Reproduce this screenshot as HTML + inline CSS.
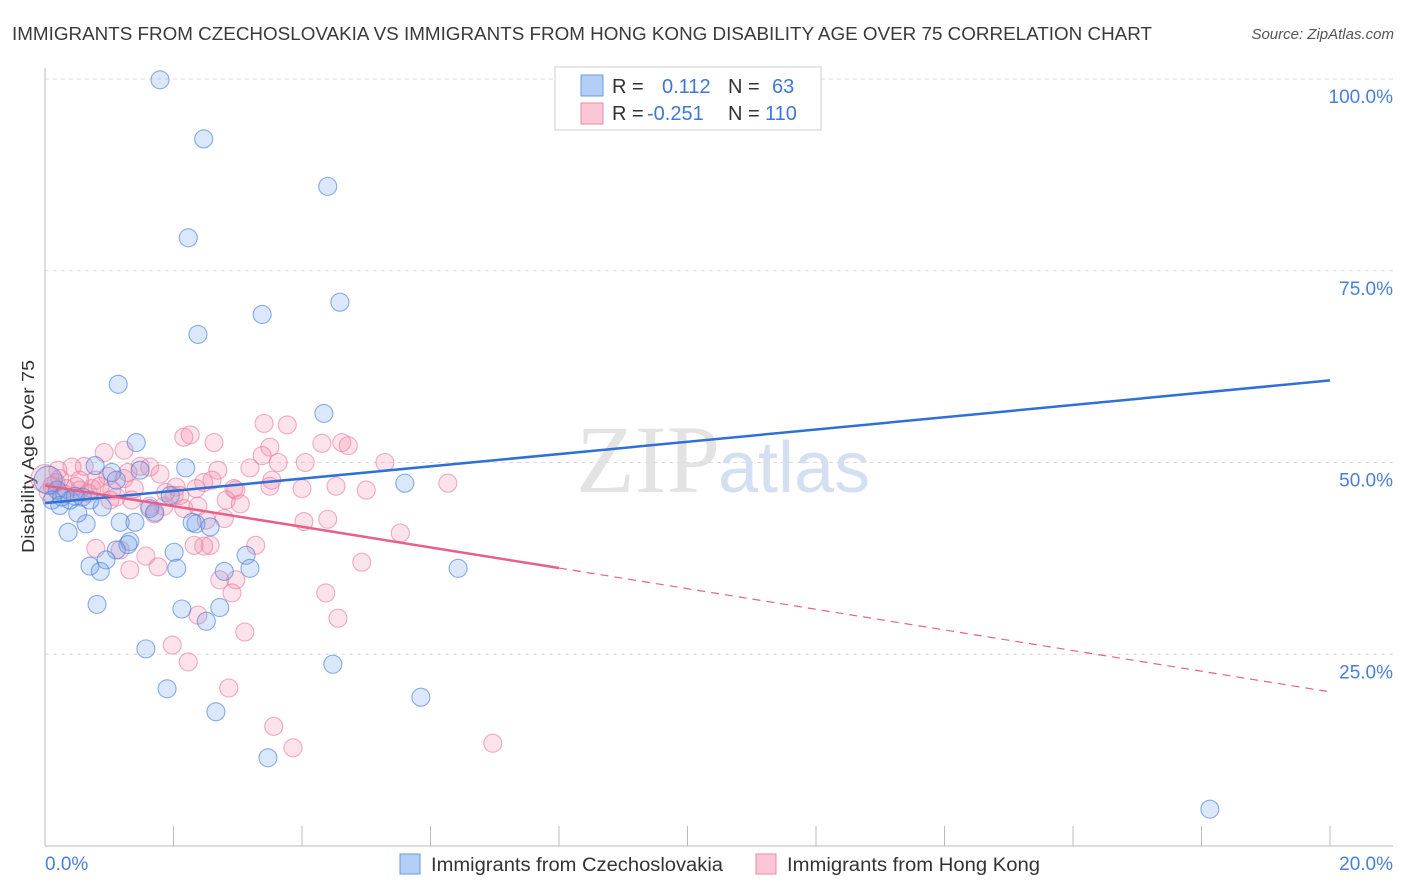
<!DOCTYPE html>
<html><head><meta charset="utf-8"><style>
body{margin:0;background:#fff;font-family:"Liberation Sans",sans-serif;}
#wrap{position:relative;width:1406px;height:892px;overflow:hidden;}
</style></head><body>
<div id="wrap">
<svg id="svg" width="1406" height="892" xmlns="http://www.w3.org/2000/svg">
<text x="12" y="40" font-size="18" fill="#3a3a3a" textLength="1140" lengthAdjust="spacingAndGlyphs">IMMIGRANTS FROM CZECHOSLOVAKIA VS IMMIGRANTS FROM HONG KONG DISABILITY AGE OVER 75 CORRELATION CHART</text>
<text x="1394" y="39" font-size="15" font-style="italic" fill="#555" text-anchor="end">Source: ZipAtlas.com</text>
<text x="0" y="0" transform="translate(34,553) rotate(-90)" font-size="17.5" fill="#333" textLength="193" lengthAdjust="spacingAndGlyphs">Disability Age Over 75</text>
<text x="720" y="492" font-size="96" font-family="Liberation Serif,serif" fill="#d8d8d8" text-anchor="end" opacity="0.7">ZIP</text>
<text x="718" y="492" font-size="72" fill="#b8cdea" opacity="0.6">atlas</text>
<g id="grid"></g><g id="axes"></g><g id="pts"></g><g id="lines"></g>
<g>
<rect x="555" y="67" width="266" height="63" fill="#fff" stroke="#ddd" stroke-width="1.5"/>
<rect x="581" y="75" width="22" height="21" fill="#b3cff5" stroke="#6a9ae0"/>
<rect x="581" y="103" width="22" height="21" fill="#fbc6d5" stroke="#e88aa6"/>
<text x="612" y="93" font-size="20" fill="#333">R =</text><text x="662" y="93" font-size="20" fill="#3f78d4">0.112</text>
<text x="728" y="93" font-size="20" fill="#333">N =</text><text x="772" y="93" font-size="20" fill="#3f78d4">63</text>
<text x="612" y="120" font-size="20" fill="#333">R =</text><text x="647" y="120" font-size="20" fill="#3f78d4">-0.251</text>
<text x="728" y="120" font-size="20" fill="#333">N =</text><text x="765" y="120" font-size="20" fill="#3f78d4">110</text>
</g>
<g>
<rect x="400" y="854" width="20" height="20" fill="#b3cff5" stroke="#6a9ae0"/>
<text x="431" y="871" font-size="19" fill="#333" textLength="292" lengthAdjust="spacingAndGlyphs">Immigrants from Czechoslovakia</text>
<rect x="756" y="854" width="20" height="20" fill="#fbc6d5" stroke="#e88aa6"/>
<text x="787" y="871" font-size="19" fill="#333" textLength="253" lengthAdjust="spacingAndGlyphs">Immigrants from Hong Kong</text>
</g>
</svg>
</div>
<script>
const blueX=[1.79,2.47,4.40,2.23,4.59,3.38,2.38,1.14,4.34,1.42,0.78,2.19,1.04,1.48,5.60,0.19,0.11,0.23,0.39,0.58,0.89,1.63,1.95,1.71,1.17,2.29,2.35,2.57,0.64,0.36,0.51,1.32,1.29,1.11,2.01,3.13,0.95,0.70,0.86,2.05,3.19,2.79,6.43,0.81,2.13,2.72,2.51,1.57,4.48,1.90,5.85,2.66,3.47,18.13,8.17,9.53,0.26,0.47,0.70,1.40,1.11,0.05];
const blueY=[99.9,92.2,86.0,79.3,70.9,69.3,66.7,60.2,56.4,52.6,49.6,49.3,48.7,49.0,47.3,46.4,45.1,44.4,45.1,45.5,44.2,44.0,45.7,43.5,42.2,42.2,42.0,41.6,42.0,40.9,43.4,39.7,39.3,38.6,38.3,37.9,37.3,36.5,35.8,36.2,36.2,35.8,36.2,31.5,30.9,31.1,29.3,25.7,23.7,20.5,19.4,17.5,11.5,4.8,99.8,99.8,45.5,45.6,45.1,42.2,47.7,47.7];
const pinkX=[3.41,3.77,2.16,2.26,2.63,0.92,1.23,3.50,4.31,4.62,4.72,3.63,4.05,5.29,3.19,2.69,0.42,0.61,1.63,1.48,1.79,1.23,0.98,0.79,0.23,0.11,0.33,0.54,0.73,1.04,1.39,2.04,2.01,2.47,2.60,2.94,2.97,3.50,4.00,4.53,5.00,6.27,1.11,1.35,1.01,1.63,1.85,1.70,2.16,2.38,2.82,3.04,2.51,2.79,4.03,4.40,5.53,0.79,1.17,1.57,2.57,2.47,3.28,1.32,1.76,2.72,2.97,4.93,2.91,4.37,2.38,4.56,3.11,1.98,2.23,2.86,3.56,3.86,6.97,0.17,0.05,0.30,0.48,0.67,0.86,1.29,1.88,2.10,2.35,3.38,3.53,2.32,0.54,0.20,0.00];
const pinkY=[55.1,54.9,53.3,53.6,52.6,51.3,51.6,52.0,52.5,52.6,52.2,50.0,50.0,50.0,49.3,49.0,49.4,49.5,49.4,49.5,48.5,47.9,48.2,47.7,47.9,47.0,46.6,46.4,46.6,46.4,46.6,46.8,45.7,47.4,47.7,46.6,46.4,46.9,46.6,46.9,46.4,47.3,45.5,45.1,45.1,44.3,44.3,43.3,44.0,44.3,45.1,44.6,42.5,42.7,42.3,42.6,40.8,38.8,38.6,37.8,39.2,39.1,39.2,36.0,36.4,34.7,34.7,37.0,33.0,33.0,30.1,29.7,27.9,26.2,24.0,20.6,15.6,12.8,13.4,47.4,46.1,45.9,46.9,46.0,46.9,48.7,46.1,45.7,46.6,50.9,47.7,39.2,47.7,49.0,47.9];
const blueLine=[44.7,60.7];
const pinkLine=[47.0,20.1];
const pinkSolidEnd=8.0;
const yTicks=[25,50,75,100];
const xTickLabels=["0.0%","20.0%"];

const NS="http://www.w3.org/2000/svg";
const X0=45,X1=1330,Y0=846,Y100=79;
const sx=v=>X0+(v/20)*(X1-X0);
const sy=v=>Y0-(v/100)*(Y0-Y100);
function mk(tag,attrs,parent){const e=document.createElementNS(NS,tag);for(const k in attrs)e.setAttribute(k,attrs[k]);parent.appendChild(e);return e;}
const grid=document.getElementById('grid'),axes=document.getElementById('axes'),pts=document.getElementById('pts'),lines=document.getElementById('lines');
yTicks.forEach(t=>{
  const l=mk('line',{x1:X0,x2:1393,y1:sy(t),y2:sy(t),stroke:'#ddd','stroke-dasharray':'4,4'},grid);
  
  
  const tx=mk('text',{x:1393,y:sy(t)+24,'font-size':19,fill:'#4a7fd6','text-anchor':'end'},grid);
  tx.textContent=t.toFixed(1)+'%';
  
  
});
let ax=mk('line',{x1:X0,x2:1393,y1:Y0,y2:Y0,stroke:'#bbb'},axes);


let ay=mk('line',{x1:X0,x2:X0,y1:68,y2:Y0,stroke:'#bbb'},axes);


for(let i=0;i<=10;i++){
  const t=mk('line',{x1:sx(i*2),x2:sx(i*2),y1:826,y2:Y0,stroke:'#bbb'},axes);
  
  
}
[[X0,'start',0],[1393,'end',1]].forEach(([x,a,i])=>{
  const t=mk('text',{x:x,y:870,'font-size':19,fill:'#4a7fd6','text-anchor':a},axes);
  t.textContent=xTickLabels[i];
  
  
});
pinkX.forEach((x,i)=>{
  const c=mk('circle',{cx:sx(x),cy:sy(pinkY[i]),r:x===0?14:9,fill:'rgba(244,140,170,0.25)',stroke:'rgba(232,120,156,0.6)','stroke-width':1.1},pts);
  
  
});
blueX.forEach((x,i)=>{
  const c=mk('circle',{cx:sx(x),cy:sy(blueY[i]),r:i===blueX.length-1?14:9,fill:'rgba(110,160,235,0.25)',stroke:'rgba(80,130,215,0.65)','stroke-width':1.1},pts);
  
  
});
const bl=mk('line',{x1:sx(0),y1:sy(blueLine[0]),x2:sx(20),y2:sy(blueLine[1]),stroke:'#2f6fd6','stroke-width':2.5},lines);


const pAt=x=>pinkLine[0]+(pinkLine[1]-pinkLine[0])*x/20;
const ps=mk('line',{x1:sx(0),y1:sy(pAt(0)),x2:sx(pinkSolidEnd),y2:sy(pAt(pinkSolidEnd)),stroke:'#e8608a','stroke-width':2.5},lines);


const pd=mk('line',{x1:sx(pinkSolidEnd),y1:sy(pAt(pinkSolidEnd)),x2:sx(20),y2:sy(pAt(20)),stroke:'#e8608a','stroke-width':1.2,'stroke-dasharray':'8,6'},lines);


</script>
</body></html>
